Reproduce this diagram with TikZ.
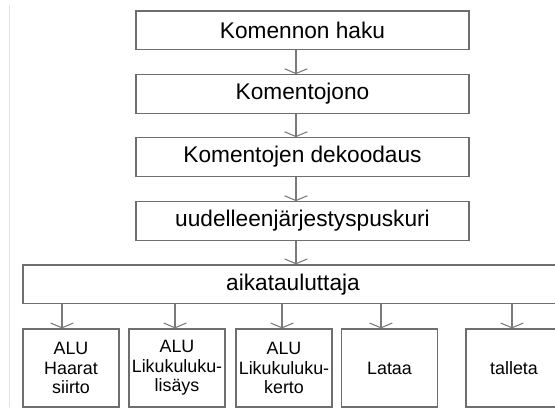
\documentclass[tikz,border=0pt]{standalone}
\usepackage{fontspec}
\setmainfont{Liberation Sans}
\usetikzlibrary{arrows.meta}
\definecolor{boxgray}{HTML}{6E6E6E}
\definecolor{arrgray}{HTML}{7A7A7A}
\definecolor{edgegray}{HTML}{E2E2E2}
\begin{document}
\begin{tikzpicture}[x=0.75pt,y=-0.75pt,
  box/.style={draw=boxgray, line width=0.9pt, rectangle, inner sep=0pt,
    font=\fontsize{17}{19.5}\selectfont},
  stagebox/.style={box, minimum width=249.75pt, minimum height=28.9pt},
  unitbox/.style={box, minimum width=72pt, minimum height=58.5pt, align=center,
    font=\fontsize{13.4}{14.6}\selectfont},
  flow/.style={draw=arrgray, line width=0.8pt, -{Straight Barb[length=3.6pt,width=17pt]}}]
\useasboundingbox (0,0) rectangle (555,407);
\clip (0,0) rectangle (555,407);
\draw[edgegray, line width=0.8pt] (9.5,5) -- (9.5,407);

\node[stagebox] (b1) at (302.5,30.2) {Komennon haku};
\node[stagebox] (b2) at (302.5,94) {Komentojono};
\node[stagebox] (b3) at (302.5,157) {Komentojen dekoodaus};
\node[stagebox] (b4) at (302.5,221) {uudelleenjärjestyspuskuri};
\node[box, minimum width=405pt, minimum height=28.9pt] (s) at (293,284.2) {aikatauluttaja};

\node[unitbox] (u1) at (71,368) {ALU\\Haarat\\siirto};
\node[unitbox] (u2) at (177,368) {ALU\\Likukuluku-\\lisäys};
\node[unitbox] (u3) at (284,368) {ALU\\Likukuluku-\\kerto};
\node[unitbox] (u4) at (389.5,368) {Lataa};
\node[unitbox] (u5) at (514,368) {talleta};

\draw[flow] ([xshift=-4.9pt]b1.south) -- ([xshift=-4.9pt]b2.north);
\draw[flow] ([xshift=-4.9pt]b2.south) -- ([xshift=-4.9pt]b3.north);
\draw[flow] ([xshift=-4.9pt]b3.south) -- ([xshift=-4.9pt]b4.north);
\draw[flow] ([xshift=-4.9pt]b4.south) -- ([xshift=-4.9pt]b4.south |- s.north);

\draw[flow] ([xshift=-6.75pt]u1.north |- s.south) -- ([xshift=-6.75pt]u1.north);
\draw[flow] ([xshift=-1.5pt]u2.north |- s.south) -- ([xshift=-1.5pt]u2.north);
\draw[flow] ([xshift=-1.5pt]u3.north |- s.south) -- ([xshift=-1.5pt]u3.north);
\draw[flow] ([xshift=-6.4pt]u4.north |- s.south) -- ([xshift=-6.4pt]u4.north);
\draw[flow] ([xshift=-1.5pt]u5.north |- s.south) -- ([xshift=-1.5pt]u5.north);
\end{tikzpicture}
\end{document}
